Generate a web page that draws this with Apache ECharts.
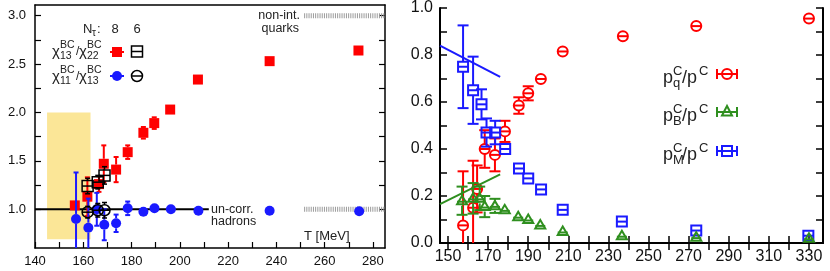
<!DOCTYPE html>
<html><head><meta charset="utf-8">
<script src="https://cdn.jsdelivr.net/npm/echarts@6/dist/echarts.min.js"></script>
<style>html,body{margin:0;padding:0;background:#fff}#c{width:830px;height:271px}</style>
</head><body><div id="c"></div>
<script>
// ---------- Left panel data (T [MeV], value, error) ----------
const redT  = [156.5, 161.7, 166.5, 168.5, 173.6, 178.4, 184.9, 189.4, 196.0, 207.5, 237.2, 274.0];
const redV  = [1.04, 1.13, 1.26, 1.47, 1.41, 1.59, 1.79, 1.89, 2.03, 2.34, 2.53, 2.64];
const redE  = [0.05, 0.20, 0.08, 0.19, 0.13, 0.07, 0.06, 0.06, 0.03, 0.05, 0.02, 0.02];
const blueT = [157.0, 162.1, 165.6, 168.7, 173.6, 178.4, 184.9, 189.5, 196.3, 207.7, 237.2, 274.3];
const blueV = [0.90, 0.81, 1.00, 0.84, 0.855, 1.01, 0.975, 1.01, 1.00, 0.985, 0.985, 0.98];
const blueE = [0.48, 0.30, 0.17, 0.16, 0.09, 0.07, 0.03, 0.02, 0.02, 0.02, 0.02, 0.02];
const sq6T  = [161.8, 166.0, 168.8];
const sq6V  = [1.24, 1.28, 1.35];
const sq6E  = [0.08, 0.07, 0.09];
const ci6T  = [161.8, 166.0, 168.8];
const ci6V  = [0.97, 0.99, 0.99];
const ci6E  = [0.06, 0.07, 0.08];
const bandT = [145, 163];
const bandV = [0.69, 2.0];
const hadronLineT = [140, 212];
const refLevel = [1.0, 3.0];
const idealT = [251.5, 285];
const leftXTicks = [140,150,160,170,180,190,200,210,220,230,240,250,260,270,280];
const leftXLabels = [140,160,180,200,220,240,260,280];
const leftYTicks = [1.0,1.25,1.5,1.75,2.0,2.25,2.5,2.75,3.0];
const leftYLabels = [1.0,1.5,2.0,2.5,3.0];

// ---------- Right panel data ----------
const qT = [157.5, 162.5, 164.5, 168.3, 173.4, 178.4, 185.3, 190.0, 196.3, 207.2, 237.2, 273.8, 330.0];
const qV = [0.075, 0.15, 0.23, 0.40, 0.375, 0.475, 0.585, 0.637, 0.698, 0.815, 0.88, 0.923, 0.955];
const qE = [0.23, 0.20, 0.10, 0.08, 0.07, 0.045, 0.035, 0.03, 0.015, 0.012, 0.01, 0.01, 0.01];
const mT = [157.5, 162.5, 166.7, 169.2, 173.5, 178.5, 185.4, 190.0, 196.4, 207.2, 236.7, 273.8, 329.7];
const mV = [0.75, 0.65, 0.59, 0.47, 0.47, 0.40, 0.317, 0.275, 0.228, 0.141, 0.091, 0.053, 0.031];
const mE = [0.176, 0.143, 0.064, 0.06, 0.05, 0.02, 0.015, 0.012, 0.01, 0.01, 0.01, 0.01, 0.01];
const bT = [157.0, 162.5, 165.8, 168.3, 173.4, 178.3, 185.0, 190.0, 196.0, 207.2, 236.7, 273.8, 330.0];
const bV = [0.18, 0.19, 0.19, 0.155, 0.158, 0.141, 0.112, 0.10, 0.077, 0.049, 0.031, 0.025, 0.02];
const bE = [0.06, 0.065, 0.05, 0.045, 0.03, 0.015, 0.012, 0.01, 0.008, 0.006, 0.005, 0.005, 0.005];
const mLineT = [146, 176];
const mLineV = [0.84, 0.707];
const bLineT = [146, 176];
const bLineV = [0.165, 0.292];
const rightXTicks = [150,160,170,180,190,200,210,220,230,240,250,260,270,280,290,300,310,320,330];
const rightXLabels = [150,170,190,210,230,250,270,290,310,330];
const rightYTicks = [0,0.1,0.2,0.3,0.4,0.5,0.6,0.7,0.8,0.9,1.0];
const rightYLabels = [0,0.2,0.4,0.6,0.8,1.0];

const RED = '#ff0000', BLUE = '#1a1aff', GREEN = '#2f8f1f', BLACK = '#000';
const FONT = '"Liberation Sans", Arial, Helvetica, sans-serif';

function zip(a, b, c) { return a.map((v, i) => [v, b[i], c ? c[i] : 0]); }

function makeRender(kind, color, opt) {
  return function (params, api) {
    const x = api.value(0), y = api.value(1), e = api.value(2);
    const p = api.coord([x, y]);
    const hi = api.coord([x, y + e]);
    const lo = api.coord([x, y - e]);
    const s = opt.size, h = s / 2, lw = opt.lw, cap = opt.cap;
    const st = { stroke: color, lineWidth: lw, fill: null };
    const ch = [];
    if (hi[1] < p[1] - h) {
      ch.push({ type: 'line', shape: { x1: p[0], y1: hi[1], x2: p[0], y2: p[1] - h }, style: st });
      if (cap) ch.push({ type: 'line', shape: { x1: p[0] - cap, y1: hi[1], x2: p[0] + cap, y2: hi[1] }, style: st });
    }
    if (lo[1] > p[1] + h) {
      ch.push({ type: 'line', shape: { x1: p[0], y1: p[1] + h, x2: p[0], y2: lo[1] }, style: st });
      if (cap) ch.push({ type: 'line', shape: { x1: p[0] - cap, y1: lo[1], x2: p[0] + cap, y2: lo[1] }, style: st });
    }
    const ml = opt.mlw || lw;
    const ost = { stroke: color, lineWidth: ml, fill: 'rgba(255,255,255,0)' };
    if (kind === 'fsquare') ch.push({ type: 'rect', shape: { x: p[0] - h, y: p[1] - h, width: s, height: s }, style: { fill: color } });
    if (kind === 'fcircle') ch.push({ type: 'circle', shape: { cx: p[0], cy: p[1], r: h }, style: { fill: color } });
    if (kind === 'osquare') {
      ch.push({ type: 'rect', shape: { x: p[0] - h, y: p[1] - h, width: s, height: s }, style: ost });
      ch.push({ type: 'line', shape: { x1: p[0] - h, y1: p[1], x2: p[0] + h, y2: p[1] }, style: ost });
    }
    if (kind === 'ocircle') {
      ch.push({ type: 'circle', shape: { cx: p[0], cy: p[1], r: h }, style: ost });
      ch.push({ type: 'line', shape: { x1: p[0] - h, y1: p[1], x2: p[0] + h, y2: p[1] }, style: ost });
    }
    if (kind === 'otri') {
      ch.push({ type: 'polygon', shape: { points: [[p[0], p[1] - h], [p[0] - h, p[1] + h * 0.7], [p[0] + h, p[1] + h * 0.7]] }, style: ost });
      ch.push({ type: 'line', shape: { x1: p[0] - h, y1: p[1] + 1, x2: p[0] + h, y2: p[1] + 1 }, style: ost });
    }
    return { type: 'group', children: ch };
  };
}

function errSeries(xi, yi, data, kind, color, opt, z) {
  return { type: 'custom', xAxisIndex: xi, yAxisIndex: yi, data: data, encode: { x: 0, y: 1 },
    renderItem: makeRender(kind, color, opt), clip: true, z: z || 2, silent: true };
}
function lineSeries(xi, yi, data, color, width, type, z) {
  return { type: 'line', xAxisIndex: xi, yAxisIndex: yi, data: data, symbol: 'none', silent: true,
    lineStyle: { color: color, width: width, type: type || 'solid', cap: 'butt' }, z: z || 1, animation: false };
}

const axisBase = (color, w) => ({ show: true, lineStyle: { color: color, width: w } });

const option = {
  animation: false,
  grid: [
    { left: 35, top: 5, right: 445, bottom: 23 },
    { left: 440, top: 7, right: 7, bottom: 28 }
  ],
  xAxis: [
    { type: 'value', gridIndex: 0, min: 140, max: 285, position: 'bottom',
      axisLine: axisBase(BLACK, 1.5), splitLine: { show: false },
      axisTick: { inside: true, length: 6, lineStyle: { color: BLACK, width: 1.2 }, customValues: leftXTicks },
      axisLabel: { customValues: leftXLabels, fontSize: 13, color: '#111', margin: 7, fontFamily: FONT } },
    { type: 'value', gridIndex: 0, min: 140, max: 285, position: 'top',
      axisLine: axisBase(BLACK, 1.5), splitLine: { show: false }, axisTick: { show: false }, axisLabel: { show: false } },
    { type: 'value', gridIndex: 1, min: 146, max: 337, position: 'bottom',
      axisLine: axisBase(BLACK, 2), splitLine: { show: false },
      axisTick: { inside: true, length: 7, lineStyle: { color: BLACK, width: 1.5 }, customValues: rightXTicks },
      axisLabel: { customValues: rightXLabels, fontSize: 16, color: '#111', margin: 6, fontFamily: FONT } },
    { type: 'value', gridIndex: 1, min: 146, max: 337, position: 'top',
      axisLine: axisBase(BLACK, 2), splitLine: { show: false },
      axisTick: { inside: true, length: 7, lineStyle: { color: BLACK, width: 1.5 }, customValues: rightXTicks },
      axisLabel: { show: false } }
  ],
  yAxis: [
    { type: 'value', gridIndex: 0, min: 0.6, max: 3.11, position: 'left',
      axisLine: axisBase(BLACK, 1.5), splitLine: { show: false },
      axisTick: { inside: true, length: 6, lineStyle: { color: BLACK, width: 1.2 }, customValues: leftYTicks },
      axisLabel: { customValues: leftYLabels, fontSize: 13, color: '#111', margin: 9, fontFamily: FONT,
        formatter: v => v.toFixed(1) } },
    { type: 'value', gridIndex: 0, min: 0.6, max: 3.11, position: 'right',
      axisLine: axisBase(BLACK, 1.5), splitLine: { show: false },
      axisTick: { inside: true, length: 6, lineStyle: { color: BLACK, width: 1.2 }, customValues: leftYTicks },
      axisLabel: { show: false } },
    { type: 'value', gridIndex: 1, min: 0, max: 1.0, position: 'left',
      axisLine: axisBase(BLACK, 2), splitLine: { show: false },
      axisTick: { inside: true, length: 7, lineStyle: { color: BLACK, width: 1.5 }, customValues: rightYTicks },
      axisLabel: { customValues: rightYLabels, fontSize: 16, color: '#111', margin: 7, fontFamily: FONT,
        formatter: v => v.toFixed(1) } },
    { type: 'value', gridIndex: 1, min: 0, max: 1.0, position: 'right',
      axisLine: axisBase(BLACK, 2), splitLine: { show: false },
      axisTick: { inside: true, length: 7, lineStyle: { color: BLACK, width: 1.5 }, customValues: rightYTicks },
      axisLabel: { show: false } }
  ],
  series: [
    // yellow band
    { type: 'custom', xAxisIndex: 0, yAxisIndex: 0, data: [[bandT[0], bandV[0], bandT[1], bandV[1]]], clip: true, z: 0, silent: true,
      renderItem: function (params, api) {
        const a = api.coord([api.value(0), api.value(1)]);
        const b = api.coord([api.value(2), api.value(3)]);
        return { type: 'rect', shape: { x: a[0], y: b[1], width: b[0] - a[0], height: a[1] - b[1] }, style: { fill: '#fbe697' } };
      } },
    lineSeries(0, 0, [[hadronLineT[0], refLevel[0]], [hadronLineT[1], refLevel[0]]], BLACK, 2, 'solid', 1),
    lineSeries(0, 0, [[idealT[0], refLevel[0]], [idealT[1], refLevel[0]]], '#9a9a9a', 5, [1, 1.2], 1),
    lineSeries(0, 0, [[idealT[0], refLevel[1]], [idealT[1], refLevel[1]]], '#9a9a9a', 5, [1, 1.2], 1),
    errSeries(0, 0, zip(redT, redV, redE), 'fsquare', RED, { size: 10, lw: 2, cap: 2.5 }, 2),
    errSeries(0, 0, zip(sq6T, sq6V, sq6E), 'osquare', BLACK, { size: 11, lw: 1.5, cap: 2.5 }, 3),
    errSeries(0, 0, zip(blueT, blueV, blueE), 'fcircle', BLUE, { size: 10, lw: 2, cap: 2.5 }, 4),
    errSeries(0, 0, zip(ci6T, ci6V, ci6E), 'ocircle', BLACK, { size: 11, lw: 1.5, cap: 2.5 }, 5),
    // right panel
    errSeries(2, 2, zip(qT, qV, qE), 'ocircle', RED, { size: 10, lw: 2, cap: 5.5 }, 2),
    errSeries(2, 2, zip(mT, mV, mE), 'osquare', BLUE, { size: 10, lw: 2, cap: 5.5 }, 3),
    errSeries(2, 2, zip(bT, bV, bE), 'otri', GREEN, { size: 10, lw: 2, cap: 5.5 }, 4),
    lineSeries(2, 2, [[mLineT[0], mLineV[0]], [mLineT[1], mLineV[1]]], BLUE, 2, 'solid', 5),
    lineSeries(2, 2, [[bLineT[0], bLineV[0]], [bLineT[1], bLineV[1]]], GREEN, 2, 'solid', 5)
  ],
  graphic: []
};

// ---------- annotation texts and legend keys ----------
const G = [];
function txt(x, y, s, size, opts) {
  G.push(Object.assign({ type: 'text', x: x, y: y, z: 50, silent: true,
    style: Object.assign({ text: s, fontSize: size, fontFamily: FONT, fill: '#222', align: 'left', verticalAlign: 'middle' }, opts || {}) }));
}
// left panel texts
txt(300, 16, 'non-int.', 12.5, { align: 'right' });
txt(299, 29, 'quarks', 12.5, { align: 'right' });
txt(211, 210, 'un-corr.', 12.5);
txt(211, 222, 'hadrons', 12.5);
txt(304, 236, 'T [MeV]', 13);
// N_tau header
txt(83, 29, 'N', 13);
txt(92, 33, 'τ', 10);
txt(97, 29, ':', 13);
txt(115, 29, '8', 13, { align: 'center' });
txt(137, 29, '6', 13, { align: 'center' });
// chi ratios
function chi(x, y, sub1, sub2) {
  txt(x, y + 1, 'χ', 15);
  txt(x + 8, y - 6, 'BC', 10.5);
  txt(x + 8, y + 5, sub1, 10.5);
  txt(x + 24, y + 1, '/', 12);
  txt(x + 27, y + 1, 'χ', 15);
  txt(x + 35, y - 6, 'BC', 10.5);
  txt(x + 35, y + 5, sub2, 10.5);
}
chi(52, 51, '13', '22');
chi(52, 76, '11', '13');
// left legend keys
G.push({ type: 'rect', shape: { x: 112, y: 47, width: 10, height: 10 }, style: { fill: RED }, z: 50 });
G.push({ type: 'line', shape: { x1: 110, y1: 52, x2: 124, y2: 52 }, style: { stroke: RED, lineWidth: 2 }, z: 50 });
G.push({ type: 'rect', shape: { x: 131.5, y: 46, width: 11, height: 11 }, style: { stroke: BLACK, lineWidth: 1.5, fill: null }, z: 50 });
G.push({ type: 'line', shape: { x1: 131.5, y1: 51.5, x2: 142.5, y2: 51.5 }, style: { stroke: BLACK, lineWidth: 1.5 }, z: 50 });
G.push({ type: 'circle', shape: { cx: 117, cy: 76, r: 5 }, style: { fill: BLUE }, z: 50 });
G.push({ type: 'line', shape: { x1: 110, y1: 76, x2: 124, y2: 76 }, style: { stroke: BLUE, lineWidth: 2 }, z: 50 });
G.push({ type: 'circle', shape: { cx: 137, cy: 76, r: 5.5 }, style: { stroke: BLACK, lineWidth: 1.5, fill: null }, z: 50 });
G.push({ type: 'line', shape: { x1: 131.5, y1: 76, x2: 142.5, y2: 76 }, style: { stroke: BLACK, lineWidth: 1.5 }, z: 50 });
// right legend
function pLabel(y, sub) {
  txt(663, y, 'p', 18);
  txt(673, y - 7, 'C', 13);
  txt(673, y + 5, sub, 13);
  txt(682, y, '/p', 18);
  txt(699, y - 7, 'C', 13);
}
pLabel(78, 'q');
pLabel(116, 'B');
pLabel(155, 'M');
function keyBar(cx, cy, color) {
  G.push({ type: 'line', shape: { x1: cx - 10, y1: cy, x2: cx + 10, y2: cy }, style: { stroke: color, lineWidth: 2 }, z: 50 });
  G.push({ type: 'line', shape: { x1: cx - 10, y1: cy - 5, x2: cx - 10, y2: cy + 5 }, style: { stroke: color, lineWidth: 2 }, z: 50 });
  G.push({ type: 'line', shape: { x1: cx + 10, y1: cy - 5, x2: cx + 10, y2: cy + 5 }, style: { stroke: color, lineWidth: 2 }, z: 50 });
}
keyBar(727, 74, RED);
G.push({ type: 'circle', shape: { cx: 727, cy: 74, r: 5 }, style: { stroke: RED, lineWidth: 2, fill: null }, z: 50 });
keyBar(727, 112, GREEN);
G.push({ type: 'polygon', shape: { points: [[727, 106], [722, 115.5], [732, 115.5]] }, style: { stroke: GREEN, lineWidth: 2, fill: null }, z: 50 });
keyBar(727, 151, BLUE);
G.push({ type: 'rect', shape: { x: 722, y: 146, width: 10, height: 10 }, style: { stroke: BLUE, lineWidth: 2, fill: null }, z: 50 });

option.graphic = G;

const chart = echarts.init(document.getElementById('c'), null, { renderer: 'canvas' });
chart.setOption(option);
</script>
</body></html>
